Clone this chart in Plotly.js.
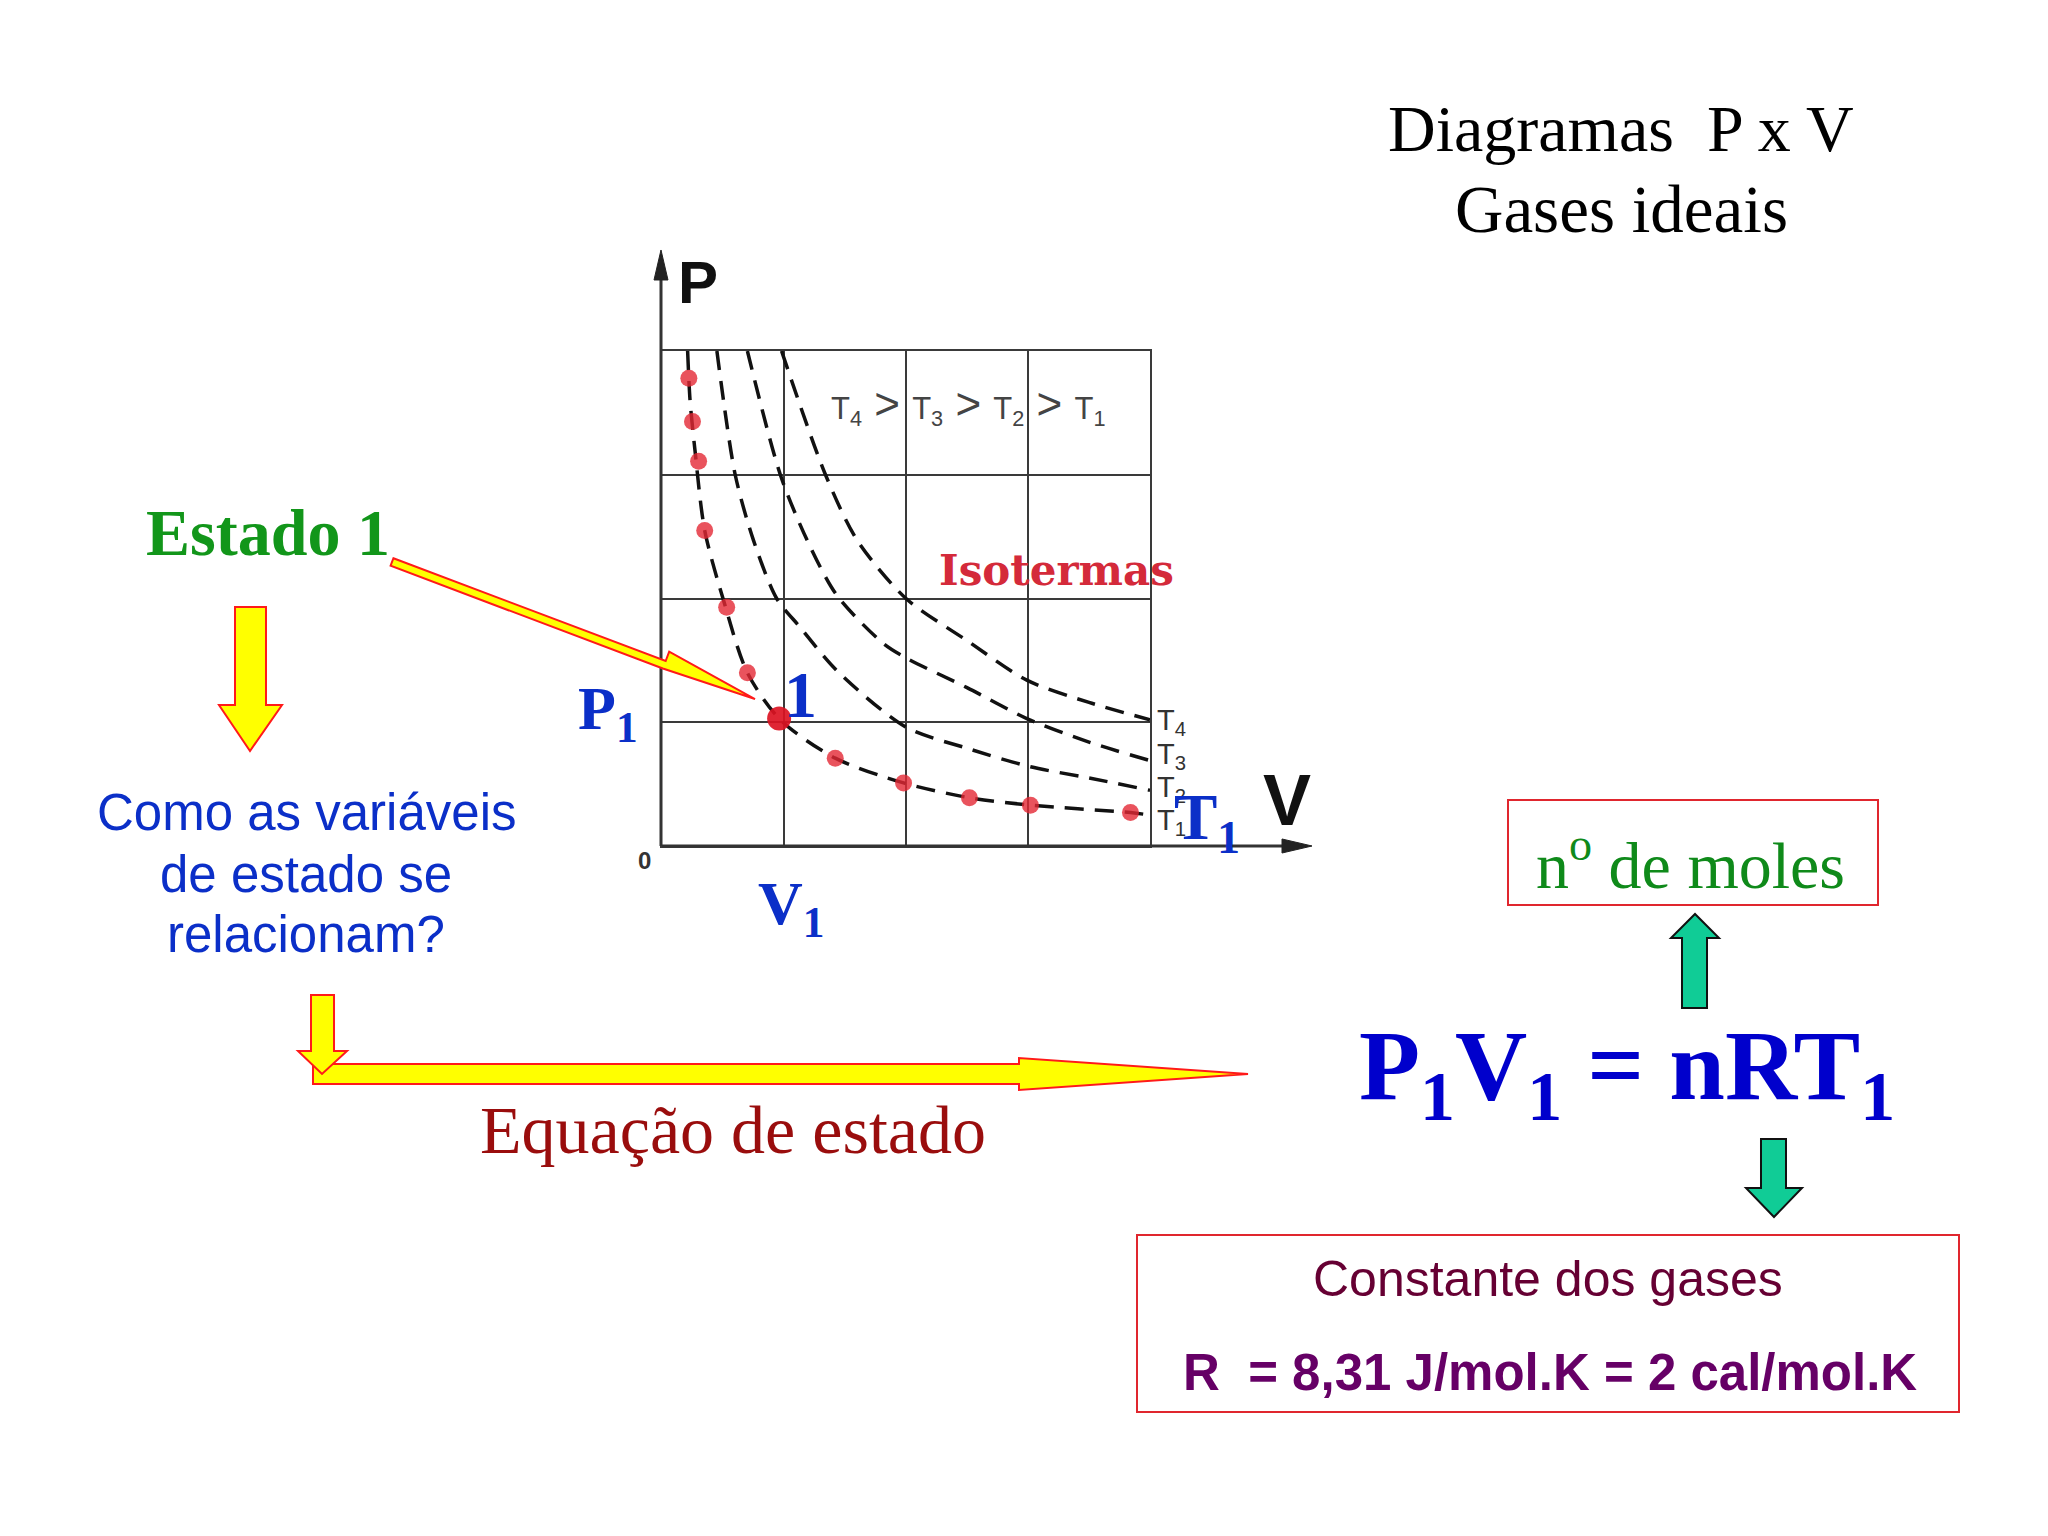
<!DOCTYPE html>
<html>
<head>
<meta charset="utf-8">
<script src="https://cdn.plot.ly/plotly-3.0.1.min.js"></script>
<style>html,body{margin:0;padding:0;background:#fff;}#chart{width:2048px;height:1536px;}</style>
</head>
<body>
<div id="chart"></div>
<script>
// ---- Data (V, P in grid units) ----
const t1V = [0.21, 0.23, 0.27, 0.35, 0.50, 0.70, 0.97, 1.42, 1.98, 2.52, 3.02, 3.84, 4.00];
const t1P = [4.00, 3.60, 3.20, 2.55, 2.00, 1.40, 1.02, 0.71, 0.51, 0.39, 0.33, 0.27, 0.25];
const t2V = [0.45, 0.60, 0.75, 0.94, 1.13, 1.43, 2.00, 2.50, 3.02, 3.50, 4.00];
const t2P = [4.00, 3.00, 2.47, 2.00, 1.77, 1.42, 0.96, 0.79, 0.64, 0.55, 0.45];
const t3V = [0.70, 0.97, 1.19, 1.43, 1.81, 2.00, 2.50, 2.99, 3.50, 4.00];
const t3P = [4.00, 3.00, 2.47, 2.03, 1.64, 1.52, 1.28, 1.03, 0.84, 0.69];
const t4V = [0.98, 1.34, 1.60, 2.00, 2.50, 2.99, 3.50, 4.00];
const t4P = [4.00, 3.00, 2.47, 2.00, 1.66, 1.34, 1.16, 1.02];
const dotV = [0.22, 0.25, 0.30, 0.35, 0.53, 0.70, 1.42, 1.98, 2.52, 3.02, 3.84];
const dotP = [3.78, 3.43, 3.11, 2.55, 1.93, 1.40, 0.71, 0.51, 0.39, 0.33, 0.27];
const state1V = [0.96];
const state1P = [1.03];
const curveNames = ['T1', 'T2', 'T3', 'T4'];

// ---- Layout helpers (pixel -> paper) ----
const W = 2048, H = 1536;
const px = X => X / W;
const py = Y => 1 - Y / H;
const SERIF = 'Liberation Serif, Times New Roman, serif';
const SANS = 'Liberation Sans, Arial, sans-serif';

function ann(text, X, Y, size, color, family, extra) {
  return Object.assign({
    text: text, x: px(X), y: py(Y), xref: 'paper', yref: 'paper',
    xanchor: 'center', yanchor: 'middle', showarrow: false,
    font: {size: size, color: color, family: family}
  }, extra || {});
}
function poly(pts, fill, line, lw) {
  let d = pts.map((p, i) => (i ? 'L' : 'M') + px(p[0]).toFixed(5) + ',' + py(p[1]).toFixed(5)).join(' ') + ' Z';
  return {type: 'path', xref: 'paper', yref: 'paper', path: d, fillcolor: fill,
          line: {color: line, width: lw}, layer: 'above'};
}
function rect(x0, y0, x1, y1, color, lw) {
  return {type: 'rect', xref: 'paper', yref: 'paper', x0: px(x0), x1: px(x1), y0: py(y1), y1: py(y0),
          line: {color: color, width: lw}, fillcolor: 'rgba(0,0,0,0)', layer: 'above'};
}
function lineSeg(x0, y0, x1, y1, color, lw) {
  return {type: 'line', xref: 'paper', yref: 'paper', x0: px(x0), y0: py(y0), x1: px(x1), y1: py(y1),
          line: {color: color, width: lw}, layer: 'above'};
}
// thin "lightning" arrow from tail to tip
function thinArrow(tx, ty, hx, hy) {
  const dx = hx - tx, dy = hy - ty, L = Math.hypot(dx, dy);
  const ux = dx / L, uy = dy / L, nx = -uy, ny = ux;
  const bx = tx + 0.75 * dx, by = ty + 0.75 * dy;
  return [
    [tx - 4 * nx, ty - 4 * ny], [bx - 4 * nx, by - 4 * ny], [bx - 14 * nx, by - 14 * ny],
    [hx, hy], [bx + 4 * nx, by + 4 * ny], [tx + 4 * nx, ty + 4 * ny]
  ];
}

const dash = {color: '#111', width: 3.5, dash: '19px,11px', shape: 'spline', smoothing: 0.8};
const traces = [
  {x: t1V, y: t1P, name: curveNames[0], mode: 'lines', line: dash},
  {x: t2V, y: t2P, name: curveNames[1], mode: 'lines', line: dash},
  {x: t3V, y: t3P, name: curveNames[2], mode: 'lines', line: dash},
  {x: t4V, y: t4P, name: curveNames[3], mode: 'lines', line: dash},
  {x: dotV, y: dotP, mode: 'markers', marker: {size: 17, color: 'rgba(228,40,52,0.8)'}},
  {x: state1V, y: state1P, mode: 'markers', marker: {size: 24, color: 'rgba(220,20,35,0.92)'}}
];

const yellow = '#ffff00', red = '#ff1a1a', teal = '#10cc96';
const shapes = [
  // axis arrows
  lineSeg(661, 846, 661, 268, '#333', 3),
  poly([[654, 280], [661, 250], [668, 280]], '#222', '#222', 1),
  lineSeg(662, 846, 1288, 846, '#333', 3),
  poly([[1282, 839], [1312, 846], [1282, 853]], '#222', '#222', 1),
  // Estado 1 -> point arrow
  poly(thinArrow(392, 562, 755, 699), yellow, red, 2),
  // down arrow under Estado 1
  poly([[235, 607], [266, 607], [266, 705], [282, 705], [250, 751], [219, 705], [235, 705]], yellow, red, 2),
  // long horizontal arrow
  poly([[313, 1064], [1019, 1064], [1019, 1058], [1248, 1074], [1019, 1090], [1019, 1084], [313, 1084]], yellow, red, 2),
  // small down arrow into it
  poly([[311, 995], [334, 995], [334, 1051], [347, 1051], [322, 1074], [298, 1051], [311, 1051]], yellow, red, 2),
  // teal arrows
  poly([[1682, 1008], [1707, 1008], [1707, 938], [1719, 938], [1695, 914], [1671, 938], [1682, 938]], teal, '#111', 2),
  poly([[1761, 1139], [1786, 1139], [1786, 1188], [1802, 1188], [1774, 1217], [1746, 1188], [1761, 1188]], teal, '#111', 2),
  // boxes
  rect(1508, 800, 1878, 905, '#e0262e', 2),
  rect(1137, 1235, 1959, 1412, '#e0262e', 2)
];

const blue = '#0b2fc8';
const gt = "<span style='font-size:44px'> > </span>";
const annotations = [
  ann('Diagramas\u00a0\u00a0P x V', 1621, 128, 66, '#000', SERIF),
  ann('Gases ideais', 1621, 209, 67, '#000', SERIF),
  ann('<b>Estado 1</b>', 268, 532, 66, '#12961a', SERIF),
  ann('Como as variáveis', 306, 812, 51, blue, SANS),
  ann('de estado se', 306, 874, 51, blue, SANS),
  ann('relacionam?', 306, 934, 51, blue, SANS),
  ann('<b>P</b>', 698, 283, 60, '#111', SANS),
  ann('<b>V</b>', 1287, 800, 72, '#111', SANS),
  ann('<b>0</b>', 644, 860, 24, '#333', SANS),
  ann('T<sub>4</sub>' + gt + 'T<sub>3</sub>' + gt + 'T<sub>2</sub>' + gt + 'T<sub>1</sub>', 968, 405, 31, '#444', SANS),
  ann('T<sub>4</sub>', 1171, 722, 29, '#333', SANS),
  ann('T<sub>3</sub>', 1171, 756, 29, '#333', SANS),
  ann('T<sub>2</sub>', 1171, 789, 29, '#333', SANS),
  ann('T<sub>1</sub>', 1171, 822, 29, '#333', SANS),
  ann('<b>Isotermas</b>', 1056, 570, 42, '#d42a3a', 'DejaVu Serif, serif'),
  ann('<b>P<sub>1</sub></b>', 608, 712, 62, blue, SERIF),
  ann('<b>1</b>', 800, 694, 66, blue, SERIF),
  ann('<b>V<sub>1</sub></b>', 791, 907, 62, blue, SERIF),
  ann('<b>T<sub>1</sub></b>', 1207, 822, 65, blue, SERIF),
  ann('Equação de estado', 733, 1130, 68, '#9a0d0d', SERIF),
  ann('<b>P<sub>1</sub>V<sub>1</sub> = nRT<sub>1</sub></b>', 1627, 1072, 100, '#0000cc', SERIF),
  ann('n<sup>o</sup> de moles', 1690, 860, 66, '#0f8a1a', SERIF),
  ann('Constante dos gases', 1548, 1279, 50, '#660033', SANS),
  ann('<b>R\u00a0\u00a0= 8,31 J/mol.K = 2 cal/mol.K</b>', 1550, 1372, 51, '#660066', SANS)
];

const axisCommon = {
  range: [0, 4], dtick: 1, tick0: 0, showgrid: true, gridcolor: '#3a3a3a', gridwidth: 2,
  zeroline: false, showline: true, mirror: true, linecolor: '#3a3a3a', linewidth: 2,
  showticklabels: false, ticks: '', fixedrange: true
};
const layout = {
  width: W, height: H, margin: {l: 0, r: 0, t: 0, b: 0, pad: 0},
  paper_bgcolor: '#ffffff', plot_bgcolor: '#ffffff', showlegend: false,
  xaxis: Object.assign({domain: [px(662), px(1150)]}, axisCommon),
  yaxis: Object.assign({domain: [py(846), py(351)]}, axisCommon),
  shapes: shapes, annotations: annotations
};
Plotly.newPlot('chart', traces, layout, {staticPlot: true, displayModeBar: false});
</script>
</body>
</html>
